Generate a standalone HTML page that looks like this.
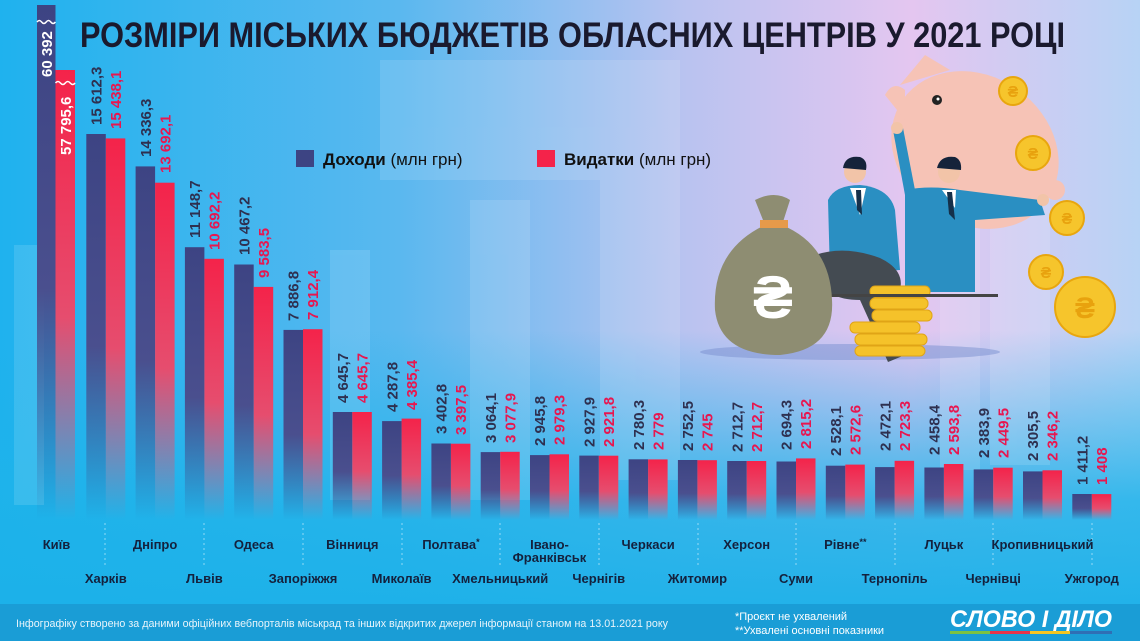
<!DOCTYPE html>
<html><head><meta charset="utf-8"><style>
html,body{margin:0;padding:0;width:1140px;height:641px;overflow:hidden}
svg{display:block;font-family:"Liberation Sans",sans-serif}
.d{fill:#2e3050;font-size:15px;font-weight:bold}
.r{fill:#e8164f;font-size:15px;font-weight:bold}
.c{fill:#14213d;font-size:13px;font-weight:bold;text-anchor:middle}
</style></head><body>
<svg width="1140" height="641" viewBox="0 0 1140 641">
<defs>
<linearGradient id="bg" x1="0" y1="0" x2="1" y2="0">
<stop offset="0" stop-color="#1fb2ee"/><stop offset="0.35" stop-color="#5ab8ef"/><stop offset="0.6" stop-color="#b9c3f0"/><stop offset="0.8" stop-color="#e4c6f0"/><stop offset="1" stop-color="#b7d3f5"/>
</linearGradient>
<linearGradient id="bot" x1="0" y1="0" x2="0" y2="1">
<stop offset="0" stop-color="#1db3ea" stop-opacity="0"/><stop offset="0.55" stop-color="#1db3ea" stop-opacity="0.85"/><stop offset="1" stop-color="#1bb0e8"/>
</linearGradient>
<linearGradient id="gd" x1="0" y1="0" x2="0" y2="1">
<stop offset="0" stop-color="#3d4483"/><stop offset="0.55" stop-color="#4a4f8e"/><stop offset="1" stop-color="#3d4483" stop-opacity="0"/>
</linearGradient>
<linearGradient id="gr" x1="0" y1="0" x2="0" y2="1">
<stop offset="0" stop-color="#f4234a"/><stop offset="0.55" stop-color="#e64d6e"/><stop offset="1" stop-color="#e64d6e" stop-opacity="0"/>
</linearGradient>
</defs>
<rect width="1140" height="641" fill="url(#bg)"/>
<rect x="0" y="330" width="1140" height="311" fill="url(#bot)"/>
<g fill="#ffffff" opacity="0.12">
<rect x="14" y="245" width="30" height="260"/><rect x="330" y="250" width="40" height="250"/>
<rect x="470" y="200" width="60" height="300"/><rect x="600" y="150" width="80" height="330"/>
<rect x="990" y="165" width="60" height="300"/><rect x="940" y="210" width="40" height="260"/>
<rect x="380" y="60" width="300" height="120"/>
</g>
<text x="80" y="47" font-size="35" font-weight="bold" fill="#1a1a2e" textLength="985" lengthAdjust="spacingAndGlyphs">РОЗМІРИ МІСЬКИХ БЮДЖЕТІВ ОБЛАСНИХ ЦЕНТРІВ У 2021 РОЦІ</text>
<rect x="296" y="150" width="18" height="17" fill="#3d4483"/>
<text x="323" y="165" font-size="17" fill="#111"><tspan font-weight="bold">Доходи</tspan> (млн грн)</text>
<rect x="537" y="150" width="18" height="17" fill="#f4234a"/>
<text x="564" y="165" font-size="17" fill="#111"><tspan font-weight="bold">Видатки</tspan> (млн грн)</text>

<!-- illustration -->
<g>
<ellipse cx="850" cy="352" rx="150" ry="8" fill="#7a8fcf" opacity="0.5"/>
<ellipse cx="975" cy="150" rx="88" ry="74" transform="rotate(35 975 150)" fill="#f6c3b6"/>
<path d="M900 85 L925 55 L950 70 Z" fill="#f6c3b6"/>
<path d="M885 95 Q893 80 905 90 L905 120 Z" fill="#f6c3b6"/>
<circle cx="1055" cy="190" r="10" fill="#f6c3b6"/>
<circle cx="937" cy="100" r="5" fill="#222"/><circle cx="938" cy="99" r="1.5" fill="#fff"/>
<!-- man 2 -->
<path d="M893 130 L903 128 L915 190 L905 195 Z" fill="#2a8fc2"/>
<circle cx="897" cy="128" r="6" fill="#f2c4a8"/>
<path d="M905 190 Q930 185 960 190 L1040 200 L1045 215 L975 220 L975 292 L905 292 Z" fill="#2a8fc2"/>
<circle cx="1043" cy="200" r="6" fill="#f2c4a8"/>
<path d="M942 190 L956 190 L955 208 Z" fill="#fff"/><path d="M947 192 L952 192 L955 220 L949 214 Z" fill="#15304a"/>
<circle cx="949" cy="172" r="11" fill="#f2c4a8"/><path d="M937 168 Q940 155 955 157 Q962 160 961 170 Z" fill="#15233a"/>
<!-- man 1 -->
<path d="M828 200 Q835 185 860 185 Q890 188 895 210 L900 270 L830 275 Z" fill="#2a8fc2"/>
<path d="M850 188 L866 188 L860 215 Z" fill="#fff"/><path d="M856 190 L861 190 L862 215 L857 210 Z" fill="#15304a"/>
<circle cx="855" cy="172" r="11" fill="#f2c4a8"/><path d="M843 168 Q845 155 860 157 Q868 160 866 170 Z" fill="#15233a"/>
<path d="M815 255 Q845 245 880 258 Q905 270 900 290 L890 300 L905 355 L888 362 L860 300 Q825 300 815 275 Z" fill="#444b52"/>
<g fill="#f5c22a" stroke="#e0a416" stroke-width="1">
<rect x="870" y="286" width="60" height="11" rx="5"/><rect x="870" y="298" width="58" height="11" rx="5"/>
<rect x="872" y="310" width="60" height="11" rx="5"/><rect x="850" y="322" width="70" height="11" rx="5"/>
<rect x="855" y="334" width="72" height="11" rx="5"/><rect x="855" y="346" width="70" height="10" rx="5"/>
</g>
<rect x="820" y="294" width="178" height="3" fill="#444"/>
<path d="M755 200 Q775 190 790 200 L782 225 Q830 245 832 300 Q835 350 780 355 Q720 355 715 310 Q712 250 765 225 Z" fill="#8e8d72"/>
<rect x="760" y="220" width="28" height="8" fill="#e69a4a"/>
<text x="773" y="318" font-size="60" font-weight="bold" fill="#fff" text-anchor="middle">₴</text>
<g fill="#f6c52c" stroke="#e8a60e" stroke-width="2">
<circle cx="1013" cy="91" r="14"/><circle cx="1033" cy="153" r="17"/><circle cx="1067" cy="218" r="17"/><circle cx="1046" cy="272" r="17"/><circle cx="1085" cy="307" r="30"/>
</g>
<g fill="#e8a20e" font-size="16" font-weight="bold" text-anchor="middle">
<text x="1013" y="97">₴</text><text x="1033" y="159">₴</text><text x="1067" y="224">₴</text><text x="1046" y="278">₴</text><text x="1085" y="318" font-size="30">₴</text>
</g>
</g>

<g>
<rect x="37" y="5" width="18.5" height="515" fill="url(#gd)"/>
<rect x="55.5" y="70" width="19.5" height="450" fill="url(#gr)"/>
<path d="M37 22 q2.3 -3 4.6 0 t4.6 0 t4.6 0 t4.6 0" stroke="#fff" stroke-width="1.5" fill="none"/>
<path d="M55.5 83 q2.4 -3 4.9 0 t4.9 0 t4.9 0 t4.9 0" stroke="#fff" stroke-width="1.5" fill="none"/>
<text transform="translate(52,77) rotate(-90)" font-size="15" font-weight="bold" fill="#fff">60 392</text>
<text transform="translate(71,155) rotate(-90)" font-size="15" font-weight="bold" fill="#fff">57 795,6</text>
</g>
<g>
<rect x="86.3" y="134" width="19.5" height="386" fill="url(#gd)"/><rect x="105.8" y="138.4" width="19.5" height="381.6" fill="url(#gr)"/>
<rect x="135.6" y="166.4" width="19.5" height="353.6" fill="url(#gd)"/><rect x="155.1" y="182.7" width="19.5" height="337.3" fill="url(#gr)"/>
<rect x="184.9" y="247.2" width="19.5" height="272.8" fill="url(#gd)"/><rect x="204.4" y="258.8" width="19.5" height="261.2" fill="url(#gr)"/>
<rect x="234.2" y="264.5" width="19.5" height="255.5" fill="url(#gd)"/><rect x="253.7" y="286.9" width="19.5" height="233.1" fill="url(#gr)"/>
<rect x="283.5" y="329.9" width="19.5" height="190.1" fill="url(#gd)"/><rect x="303" y="329.2" width="19.5" height="190.8" fill="url(#gr)"/>
<rect x="332.8" y="412" width="19.5" height="108" fill="url(#gd)"/><rect x="352.3" y="412" width="19.5" height="108" fill="url(#gr)"/>
<rect x="382.1" y="421.1" width="19.5" height="98.9" fill="url(#gd)"/><rect x="401.6" y="418.6" width="19.5" height="101.4" fill="url(#gr)"/>
<rect x="431.4" y="443.5" width="19.5" height="76.5" fill="url(#gd)"/><rect x="450.9" y="443.7" width="19.5" height="76.3" fill="url(#gr)"/>
<rect x="480.7" y="452.1" width="19.5" height="67.9" fill="url(#gd)"/><rect x="500.2" y="451.8" width="19.5" height="68.2" fill="url(#gr)"/>
<rect x="530" y="455.1" width="19.5" height="64.9" fill="url(#gd)"/><rect x="549.5" y="454.3" width="19.5" height="65.7" fill="url(#gr)"/>
<rect x="579.3" y="455.6" width="19.5" height="64.4" fill="url(#gd)"/><rect x="598.8" y="455.7" width="19.5" height="64.3" fill="url(#gr)"/>
<rect x="628.6" y="459.3" width="19.5" height="60.7" fill="url(#gd)"/><rect x="648.1" y="459.4" width="19.5" height="60.6" fill="url(#gr)"/>
<rect x="677.9" y="460" width="19.5" height="60" fill="url(#gd)"/><rect x="697.4" y="460.2" width="19.5" height="59.8" fill="url(#gr)"/>
<rect x="727.2" y="461" width="19.5" height="59" fill="url(#gd)"/><rect x="746.7" y="461" width="19.5" height="59" fill="url(#gr)"/>
<rect x="776.5" y="461.5" width="19.5" height="58.5" fill="url(#gd)"/><rect x="796" y="458.4" width="19.5" height="61.6" fill="url(#gr)"/>
<rect x="825.8" y="465.7" width="19.5" height="54.3" fill="url(#gd)"/><rect x="845.3" y="464.6" width="19.5" height="55.4" fill="url(#gr)"/>
<rect x="875.1" y="467.1" width="19.5" height="52.9" fill="url(#gd)"/><rect x="894.6" y="460.8" width="19.5" height="59.2" fill="url(#gr)"/>
<rect x="924.4" y="467.5" width="19.5" height="52.5" fill="url(#gd)"/><rect x="943.9" y="464" width="19.5" height="56" fill="url(#gr)"/>
<rect x="973.7" y="469.4" width="19.5" height="50.6" fill="url(#gd)"/><rect x="993.2" y="467.7" width="19.5" height="52.3" fill="url(#gr)"/>
<rect x="1023" y="471.4" width="19.5" height="48.6" fill="url(#gd)"/><rect x="1042.5" y="470.3" width="19.5" height="49.7" fill="url(#gr)"/>
<rect x="1072.3" y="494" width="19.5" height="26" fill="url(#gd)"/><rect x="1091.8" y="494.1" width="19.5" height="25.9" fill="url(#gr)"/>
</g>
<g>
<text class="d" transform="translate(101.5,125) rotate(-90)">15 612,3</text><text class="r" transform="translate(121,129) rotate(-90)">15 438,1</text>
<text class="d" transform="translate(150.8,157) rotate(-90)">14 336,3</text><text class="r" transform="translate(170.3,173) rotate(-90)">13 692,1</text>
<text class="d" transform="translate(200.1,238) rotate(-90)">11 148,7</text><text class="r" transform="translate(219.6,250) rotate(-90)">10 692,2</text>
<text class="d" transform="translate(249.4,255) rotate(-90)">10 467,2</text><text class="r" transform="translate(268.9,278) rotate(-90)">9 583,5</text>
<text class="d" transform="translate(298.7,321) rotate(-90)">7 886,8</text><text class="r" transform="translate(318.2,320) rotate(-90)">7 912,4</text>
<text class="d" transform="translate(348,403) rotate(-90)">4 645,7</text><text class="r" transform="translate(367.5,403) rotate(-90)">4 645,7</text>
<text class="d" transform="translate(397.3,412) rotate(-90)">4 287,8</text><text class="r" transform="translate(416.8,410) rotate(-90)">4 385,4</text>
<text class="d" transform="translate(446.6,434) rotate(-90)">3 402,8</text><text class="r" transform="translate(466.1,435) rotate(-90)">3 397,5</text>
<text class="d" transform="translate(495.9,443) rotate(-90)">3 064,1</text><text class="r" transform="translate(515.4,443) rotate(-90)">3 077,9</text>
<text class="d" transform="translate(545.2,446) rotate(-90)">2 945,8</text><text class="r" transform="translate(564.7,445) rotate(-90)">2 979,3</text>
<text class="d" transform="translate(594.5,447) rotate(-90)">2 927,9</text><text class="r" transform="translate(614,447) rotate(-90)">2 921,8</text>
<text class="d" transform="translate(643.8,450) rotate(-90)">2 780,3</text><text class="r" transform="translate(663.3,450) rotate(-90)">2 779</text>
<text class="d" transform="translate(693.1,451) rotate(-90)">2 752,5</text><text class="r" transform="translate(712.6,451) rotate(-90)">2 745</text>
<text class="d" transform="translate(742.4,452) rotate(-90)">2 712,7</text><text class="r" transform="translate(761.9,452) rotate(-90)">2 712,7</text>
<text class="d" transform="translate(791.7,450) rotate(-90)">2 694,3</text><text class="r" transform="translate(811.2,449) rotate(-90)">2 815,2</text>
<text class="d" transform="translate(841,456) rotate(-90)">2 528,1</text><text class="r" transform="translate(860.5,455) rotate(-90)">2 572,6</text>
<text class="d" transform="translate(890.3,451) rotate(-90)">2 472,1</text><text class="r" transform="translate(909.8,451) rotate(-90)">2 723,3</text>
<text class="d" transform="translate(939.6,455) rotate(-90)">2 458,4</text><text class="r" transform="translate(959.1,455) rotate(-90)">2 593,8</text>
<text class="d" transform="translate(988.9,458) rotate(-90)">2 383,9</text><text class="r" transform="translate(1008.4,458) rotate(-90)">2 449,5</text>
<text class="d" transform="translate(1038.2,461) rotate(-90)">2 305,5</text><text class="r" transform="translate(1057.7,461) rotate(-90)">2 346,2</text>
<text class="d" transform="translate(1087.5,485) rotate(-90)">1 411,2</text><text class="r" transform="translate(1107,485) rotate(-90)">1 408</text>
</g>
<g stroke="#ffffff" stroke-opacity="0.5" stroke-dasharray="2,3" stroke-width="1">
<line x1="105" y1="523" x2="105" y2="566"/><line x1="204" y1="523" x2="204" y2="566"/><line x1="303" y1="523" x2="303" y2="566"/>
<line x1="402" y1="523" x2="402" y2="566"/><line x1="500" y1="523" x2="500" y2="566"/><line x1="599" y1="523" x2="599" y2="566"/>
<line x1="698" y1="523" x2="698" y2="566"/><line x1="796" y1="523" x2="796" y2="566"/><line x1="895" y1="523" x2="895" y2="566"/>
<line x1="993" y1="523" x2="993" y2="566"/><line x1="1092" y1="523" x2="1092" y2="566"/>
</g>
<g>
<text class="c" x="56.5" y="549">Київ</text>
<text class="c" x="105.8" y="583">Харків</text>
<text class="c" x="155.1" y="549">Дніпро</text>
<text class="c" x="204.4" y="583">Львів</text>
<text class="c" x="253.7" y="549">Одеса</text>
<text class="c" x="303" y="583">Запоріжжя</text>
<text class="c" x="352.3" y="549">Вінниця</text>
<text class="c" x="401.6" y="583">Миколаїв</text>
<text class="c" x="450.9" y="549">Полтава<tspan font-size="9" dy="-4">*</tspan></text>
<text class="c" x="500.2" y="583">Хмельницький</text>
<text class="c" x="549.5" y="549">Івано-</text><text class="c" x="549.5" y="562">Франківськ</text>
<text class="c" x="598.8" y="583">Чернігів</text>
<text class="c" x="648.1" y="549">Черкаси</text>
<text class="c" x="697.4" y="583">Житомир</text>
<text class="c" x="746.7" y="549">Херсон</text>
<text class="c" x="796" y="583">Суми</text>
<text class="c" x="845.3" y="549">Рівне<tspan font-size="9" dy="-4">**</tspan></text>
<text class="c" x="894.6" y="583">Тернопіль</text>
<text class="c" x="943.9" y="549">Луцьк</text>
<text class="c" x="993.2" y="583">Чернівці</text>
<text class="c" x="1042.5" y="549">Кропивницький</text>
<text class="c" x="1091.8" y="583">Ужгород</text>
</g>
<rect x="0" y="604" width="1140" height="37" fill="#1a9dd6"/>
<text x="16" y="627" font-size="11" fill="#e8f4fb" textLength="652" lengthAdjust="spacingAndGlyphs">Інфографіку створено за даними офіційних вебпорталів міськрад та інших відкритих джерел інформації станом на 13.01.2021 року</text>
<text x="735" y="620" font-size="11" fill="#ffffff">*Проєкт не ухвалений</text>
<text x="735" y="634" font-size="11" fill="#ffffff">**Ухвалені основні показники</text>
<text x="950" y="627" font-size="24" font-weight="bold" font-style="italic" fill="#ffffff" textLength="162" lengthAdjust="spacingAndGlyphs">СЛОВО І ДІЛО</text>
<rect x="950" y="631" width="40" height="3" fill="#7cc242"/><rect x="990" y="631" width="40" height="3" fill="#e8334a"/><rect x="1030" y="631" width="40" height="3" fill="#f4c522"/><rect x="1070" y="631" width="42" height="3" fill="#2f6fb5"/>
</svg>
</body></html>
